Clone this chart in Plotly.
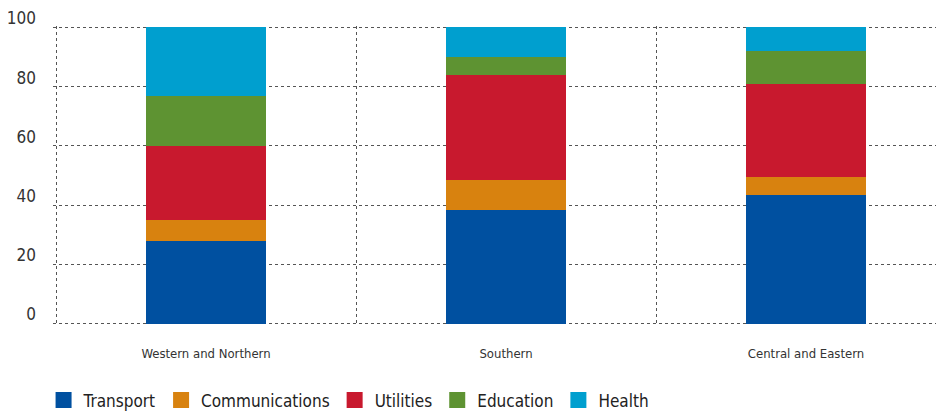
import plotly.graph_objects as go

regions = ["Western and Northern", "Southern", "Central and Eastern"]
series_names = ["Transport", "Communications", "Utilities", "Education", "Health"]
transport = [28.0, 38.5, 43.5]
communications = [7.0, 10.0, 6.0]
utilities = [25.0, 35.5, 31.5]
education = [17.0, 6.0, 11.0]
health = [23.0, 10.0, 8.0]
y_ticks = [0, 20, 40, 60, 80, 100]

colors = ["#0050A0", "#D8820F", "#C8192E", "#5E9332", "#009FCF"]
values = [transport, communications, utilities, education, health]

FONT = "DejaVu Sans Condensed, Liberation Sans Narrow, sans-serif"

fig = go.Figure()
for name, vals, col in zip(series_names, values, colors):
    fig.add_trace(go.Bar(x=regions, y=vals, name=name, marker_color=col,
                         marker_line_width=0, width=0.403, showlegend=False))
for name, col in zip(series_names, colors):
    fig.add_trace(go.Scatter(x=[None], y=[None], mode="markers", name=name,
                             marker=dict(symbol="square", size=16, color=col)))

# page body has an 8px margin, so the figure is sized to fit the window
fig.update_layout(
    barmode="stack",
    width=936, height=404,
    margin=dict(l=45, r=0, t=18, b=87, autoexpand=False),
    plot_bgcolor="white", paper_bgcolor="white",
    font=dict(family=FONT, color="#333333"),
    legend=dict(orientation="h", traceorder="normal",
                x=0.038, xanchor="left", xref="container",
                y=-0.2525, yanchor="middle",
                font=dict(size=17, color="#222222"),
                itemwidth=30, tracegroupgap=0, bgcolor="rgba(0,0,0,0)"),
)
fig.update_xaxes(type="category", range=[-0.51, 2.46], tickson="boundaries",
                 showgrid=True, gridcolor="#555555", griddash="dot", gridwidth=1,
                 ticks="", ticklabelstandoff=19, automargin=False,
                 tickfont=dict(size=13, color="#333333"),
                 showline=False, zeroline=False)
fig.update_yaxes(range=[-0.5, 100.5], tickvals=y_ticks, showgrid=True,
                 gridcolor="#555555", griddash="dot", gridwidth=1,
                 ticklabelposition="outside", ticklabelstandoff=16,
                 ticklabelshift=-9, automargin=False,
                 tickfont=dict(size=17, color="#333333"),
                 zeroline=False, showline=False)
fig.write_html("out.html")
